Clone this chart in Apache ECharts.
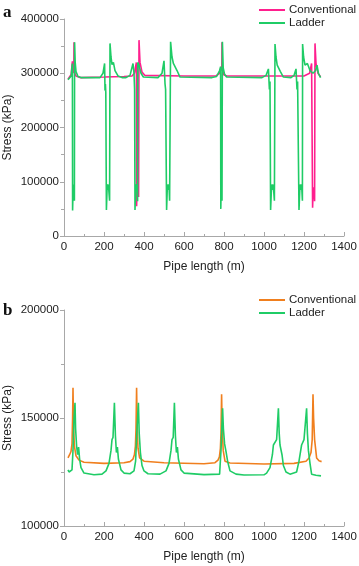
<!DOCTYPE html>
<html>
<head>
<meta charset="utf-8">
<script src="https://cdn.jsdelivr.net/npm/echarts@6/dist/echarts.min.js"></script>
<style>
  html, body { margin: 0; padding: 0; background: #fff; }
  #app { width: 359px; height: 566px; }
</style>
</head>
<body>
<div id="app"></div>
<script>
// panel a: [pipe length (m), stress (kPa)]
const convA = [
  [20, 289000], [30, 291000], [36, 298000], [40, 315000], [42, 322000], [46, 310000],
  [49, 300000], [50, 357000], [52, 302000], [60, 295000], [80, 292000], [200, 293000],
  [300, 294000], [340, 295000], [352, 300000], [358, 312000], [362, 320000], [363, 55000],
  [366, 90000], [368, 80000], [370, 90000], [373, 72000], [375, 361000], [380, 320000],
  [390, 302000], [405, 296000], [600, 295000], [760, 295000], [778, 300000], [786, 312000],
  [789, 305000], [790, 357000], [792, 305000], [800, 297000], [815, 295000], [1200, 295000],
  [1228, 300000], [1238, 318000], [1243, 52000], [1246, 90000], [1248, 80000], [1250, 90000],
  [1253, 64000], [1255, 355000], [1260, 318000], [1270, 300000], [1283, 293000]
];
const ladderA = [
  [20, 288000], [30, 288500], [36, 295000], [40, 312000], [42, 318000], [43, 47000],
  [46, 95000], [48, 85000], [50, 95000], [52, 65000], [53, 357000], [56, 320000],
  [60, 303000], [70, 294000], [85, 292000], [180, 292000], [195, 300000], [203, 318000],
  [205, 268000], [207, 280000], [209, 265000], [212, 48000], [216, 95000], [219, 85000],
  [222, 95000], [228, 65000], [230, 355000], [235, 330000], [240, 316000], [247, 320000],
  [255, 305000], [270, 295000], [290, 292000], [310, 292000], [330, 296000], [345, 318000],
  [350, 300000], [353, 270000], [355, 48000], [359, 95000], [362, 85000], [365, 95000],
  [368, 64000], [369, 320000], [375, 315000], [385, 300000], [397, 293000], [470, 292000],
  [490, 300000], [500, 323000], [505, 281000], [508, 270000], [513, 48000], [517, 95000],
  [521, 85000], [525, 95000], [528, 65000], [533, 358000], [540, 330000], [547, 318000],
  [555, 321000], [565, 305000], [580, 293000], [740, 292000], [763, 294000], [778, 305000],
  [783, 312000], [784, 50000], [786, 95000], [788, 85000], [790, 65000], [792, 358000],
  [796, 310000], [803, 298000], [813, 293000], [990, 292000], [1010, 296000], [1022, 308000],
  [1027, 270000], [1030, 285000], [1033, 48000], [1038, 95000], [1042, 85000], [1046, 95000],
  [1052, 65000], [1055, 354000], [1060, 330000], [1066, 315000], [1072, 318000], [1082, 303000],
  [1097, 293000], [1135, 292000], [1150, 296000], [1160, 308000], [1165, 270000], [1168, 285000],
  [1175, 48000], [1180, 95000], [1184, 85000], [1188, 95000], [1192, 65000], [1193, 354000],
  [1198, 330000], [1205, 315000], [1217, 318000], [1230, 305000], [1245, 300000], [1258, 305000],
  [1265, 315000], [1272, 300000], [1283, 292000]
];

// panel b
const convB = [
  [20, 131500], [28, 133000], [35, 134500], [40, 138000], [43, 150000], [45, 164000],
  [48, 145000], [52, 137000], [60, 132500], [75, 130500], [100, 129500], [200, 129000],
  [300, 129300], [330, 129800], [345, 131000], [352, 133000], [357, 137000], [360, 145000],
  [363, 164000], [366, 145000], [370, 136000], [378, 131500], [400, 130000], [500, 129300],
  [700, 128800], [755, 129300], [770, 130500], [777, 132000], [782, 136000], [785, 143000],
  [788, 161000], [791, 145000], [796, 135000], [805, 130000], [830, 129200], [1000, 128700],
  [1150, 129000], [1210, 130000], [1225, 131500], [1235, 134000], [1241, 140000], [1245, 161000],
  [1248, 150000], [1253, 140000], [1263, 131500], [1275, 130200], [1288, 129800]
];
const ladderB = [
  [20, 126000], [25, 125000], [32, 124800], [40, 126000], [45, 135000], [50, 150000],
  [55, 157000], [58, 145000], [63, 137000], [68, 133000], [73, 136500], [78, 131000],
  [85, 127000], [100, 124500], [150, 123700], [190, 124000], [210, 125500], [225, 129000],
  [235, 135000], [240, 140000], [245, 141000], [252, 157000], [257, 142000], [262, 134000],
  [267, 136500], [272, 131000], [285, 126000], [300, 124500], [330, 124200], [350, 125500],
  [358, 130000], [365, 145000], [372, 157000], [376, 143000], [382, 134000], [390, 128000],
  [400, 125500], [420, 124200], [480, 124000], [510, 125500], [525, 129000], [535, 135000],
  [540, 140000], [546, 141000], [552, 157000], [557, 142000], [562, 134000], [567, 136500],
  [572, 131000], [585, 126000], [600, 124500], [700, 123800], [778, 124000], [785, 135000],
  [793, 154500], [797, 145000], [803, 138000], [810, 134500], [818, 130000], [830, 125500],
  [860, 124000], [900, 123600], [1000, 123700], [1013, 124500], [1030, 127000], [1042, 133000],
  [1047, 137500], [1063, 140000], [1072, 154500], [1076, 143000], [1080, 137500], [1090, 133000],
  [1097, 128000], [1110, 125000], [1130, 124000], [1163, 125000], [1175, 130000], [1188, 137500],
  [1200, 140000], [1213, 154500], [1217, 143000], [1222, 135000], [1230, 129000], [1238, 124000],
  [1260, 123500], [1285, 123200]
];

const yTicksA = [0, 400000, 100000];
const yTicksB = [100000, 200000, 50000];

const pink = "#ff1f8e";
const green = "#1fcc66";
const orange = "#f07f1e";
const font = "Liberation Sans";

const dom = document.getElementById("app");
const myChart = echarts.init(dom);

function xAxisOf(gridIndex) {
  return {
    gridIndex,
    type: "value",
    min: 0,
    max: 1400,
    interval: 200,
    name: "Pipe length (m)",
    nameLocation: "middle",
    nameGap: 25,
    nameMoveOverlap: false,
    nameTextStyle: { fontFamily: font, fontSize: 12, color: "#222" },
    axisLine: { lineStyle: { color: "#a8a8a8" } },
    axisTick: { inside: true, length: 4, lineStyle: { color: "#a8a8a8" } },
    minorTick: { show: true, splitNumber: 2, length: 2, lineStyle: { color: "#a8a8a8" } },
    axisLabel: { fontFamily: font, fontSize: 11.5, color: "#222", margin: 5, formatter: (v) => String(v) },
    splitLine: { show: false }
  };
}

function yAxisOf(gridIndex, t) {
  return {
    gridIndex,
    type: "value",
    min: t[0],
    max: t[1],
    interval: t[2],
    name: "Stress (kPa)",
    nameLocation: "middle",
    nameGap: 50,
    nameMoveOverlap: false,
    nameTextStyle: { fontFamily: font, fontSize: 12, color: "#222" },
    axisLine: { show: true, lineStyle: { color: "#a8a8a8" } },
    axisTick: { show: true, length: 4, lineStyle: { color: "#a8a8a8" } },
    minorTick: { show: true, splitNumber: 2, length: 3, lineStyle: { color: "#a8a8a8" } },
    axisLabel: { fontFamily: font, fontSize: 11.5, color: "#222", margin: 5, formatter: (v) => String(v) },
    splitLine: { show: false }
  };
}

function legendOf(top, names) {
  return {
    orient: "vertical",
    left: 254,
    top,
    icon: "rect",
    itemWidth: 26,
    itemHeight: 2,
    itemGap: 1,
    data: names,
    formatter: (n) => n.replace(/ [ab]$/, ""),
    textStyle: { fontFamily: font, fontSize: 11.5, color: "#222", padding: [0, 0, 0, -1] }
  };
}

function line(name, data, color, xi) {
  return {
    name,
    type: "line",
    xAxisIndex: xi,
    yAxisIndex: xi,
    data,
    symbol: "none",
    lineStyle: { color, width: 1.6 },
    itemStyle: { color },
    animation: false
  };
}

myChart.setOption({
  animation: false,
  grid: [
    { left: 64, right: 15, top: 19, bottom: 330, outerBoundsMode: "none", containLabel: false },
    { left: 64, right: 15, top: 310, bottom: 40, outerBoundsMode: "none", containLabel: false }
  ],
  legend: [
    legendOf(-1, ["Conventional a", "Ladder a"]),
    legendOf(289, ["Conventional b", "Ladder b"])
  ],
  graphic: [
    { type: "text", left: 3, top: 4, style: { text: "a", font: "bold 17px 'Liberation Serif'", fill: "#111" } },
    { type: "text", left: 3, top: 302, style: { text: "b", font: "bold 17px 'Liberation Serif'", fill: "#111" } }
  ],
  xAxis: [xAxisOf(0), xAxisOf(1)],
  yAxis: [yAxisOf(0, yTicksA), yAxisOf(1, yTicksB)],
  series: [
    line("Conventional a", convA, pink, 0),
    line("Ladder a", ladderA, green, 0),
    line("Conventional b", convB, orange, 1),
    line("Ladder b", ladderB, green, 1)
  ]
});
</script>
</body>
</html>
